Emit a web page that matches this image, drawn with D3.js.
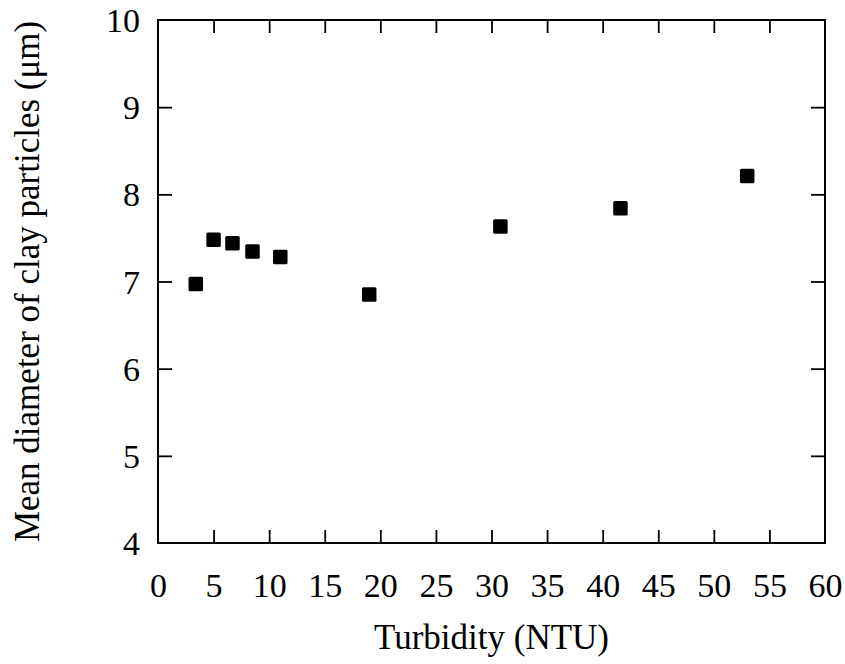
<!DOCTYPE html>
<html>
<head>
<meta charset="utf-8">
<script src="https://cdn.jsdelivr.net/npm/d3@7"></script>
<style>
  html, body { margin: 0; padding: 0; background: #fff; }
  svg { display: block; }
  text { font-family: "Liberation Serif", "Times New Roman", serif; fill: #000; }
</style>
</head>
<body>
<svg id="chart" width="845" height="664"></svg>
<script>
// Data
const turbidity = [3.4, 5.0, 6.7, 8.5, 11.0, 19.0, 30.8, 41.6, 53.0];
const meanDiameter = [6.97, 7.48, 7.44, 7.345, 7.28, 6.85, 7.63, 7.84, 8.21];
const xTicks = [0, 5, 10, 15, 20, 25, 30, 35, 40, 45, 50, 55, 60];
const yTicks = [4, 5, 6, 7, 8, 9, 10];
const xTitle = "Turbidity (NTU)";
const yTitle = "Mean diameter of clay particles (\u03bcm)";

const svg = d3.select("#chart");
const mLeft = 158, mRight = 825, mTop = 20, mBottom = 543;

const x = d3.scaleLinear().domain([0, 60]).range([mLeft, mRight]);
const y = d3.scaleLinear().domain([4, 10]).range([mBottom, mTop]);

function styleAxis(g) {
  g.select(".domain").remove();
  g.selectAll(".tick line").attr("stroke", "#000").attr("stroke-width", 1.8);
}

// Frame
svg.append("rect")
  .attr("x", mLeft).attr("y", mTop)
  .attr("width", mRight - mLeft).attr("height", mBottom - mTop)
  .attr("fill", "none").attr("stroke", "#000").attr("stroke-width", 2);

// Bottom axis (inner ticks)
const gx = svg.append("g").attr("transform", `translate(0,${mBottom})`)
  .call(d3.axisBottom(x).tickValues(xTicks).tickSize(-13).tickPadding(0).tickFormat(d3.format("d")));
styleAxis(gx);
gx.selectAll(".tick line").filter(d => d === 0 || d === 60).remove();
gx.selectAll(".tick text")
  .attr("y", 54).attr("dy", null)
  .attr("font-size", 34).attr("font-family", "Liberation Serif, serif").attr("fill", "#000");

// Top axis (inner ticks, no labels)
const gxt = svg.append("g").attr("transform", `translate(0,${mTop})`)
  .call(d3.axisTop(x).tickValues(xTicks).tickSize(-13).tickFormat(""));
styleAxis(gxt);
gxt.selectAll(".tick line").filter(d => d === 0 || d === 60).remove();

// Left axis
const gy = svg.append("g").attr("transform", `translate(${mLeft},0)`)
  .call(d3.axisLeft(y).tickValues(yTicks).tickSize(-14).tickPadding(0).tickFormat(d3.format("d")));
styleAxis(gy);
gy.selectAll(".tick line").filter(d => d === 4 || d === 10).remove();
gy.selectAll(".tick text")
  .attr("x", -18).attr("dy", "0.34em")
  .attr("font-size", 34).attr("font-family", "Liberation Serif, serif").attr("fill", "#000");

// Right axis (inner ticks, no labels)
const gyr = svg.append("g").attr("transform", `translate(${mRight},0)`)
  .call(d3.axisRight(y).tickValues(yTicks).tickSize(-14).tickFormat(""));
styleAxis(gyr);
gyr.selectAll(".tick line").filter(d => d === 4 || d === 10).remove();

// Markers
const s = 14.5;
svg.append("g").selectAll("rect")
  .data(turbidity.map((t, i) => ({ t, d: meanDiameter[i] })))
  .join("rect")
  .attr("x", p => x(p.t) - s / 2)
  .attr("y", p => y(p.d) - s / 2)
  .attr("width", s).attr("height", s)
  .attr("rx", 1.5)
  .attr("fill", "#000");

// Axis titles
svg.append("text")
  .attr("x", (mLeft + mRight) / 2).attr("y", 649)
  .attr("text-anchor", "middle").attr("font-size", 35)
  .text(xTitle);

svg.append("text")
  .attr("transform", `translate(39,${(mTop + mBottom) / 2}) rotate(-90)`)
  .attr("text-anchor", "middle").attr("font-size", 35)
  .text(yTitle);
</script>
</body>
</html>
